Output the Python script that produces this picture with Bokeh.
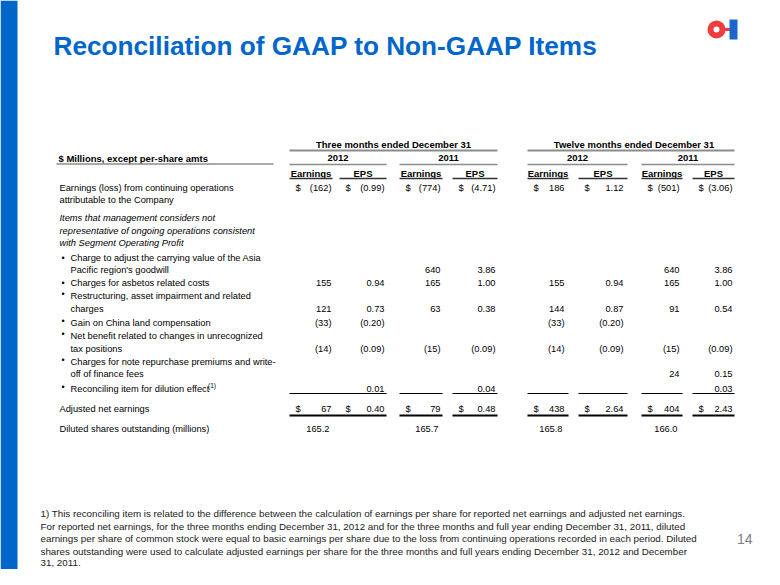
from bokeh.plotting import figure
from bokeh.models import ColumnDataSource, Range1d
from bokeh.core.properties import value
from bokeh.embed import file_html
from bokeh.resources import INLINE

# ---------------- data ----------------
title = "Reconciliation of GAAP to Non-GAAP Items"
period_headers = ["Three months ended December 31", "Twelve months ended December 31"]
year_headers = ["2012", "2011", "2012", "2011"]
col_headers = ["Earnings", "EPS", "Earnings", "EPS", "Earnings", "EPS", "Earnings", "EPS"]
units_label = "$ Millions, except per-share amts"

row_labels = [
    ["Earnings (loss) from continuing operations", "attributable to the Company"],
    ["Charge to adjust the carrying value of the Asia", "Pacific region's goodwill"],
    ["Charges for asbetos related costs"],
    ["Restructuring, asset impairment and related", "charges"],
    ["Gain on China land compensation"],
    ["Net benefit related to changes in unrecognized", "tax positions"],
    ["Charges for note repurchase premiums and write-", "off of finance fees"],
    ["Reconciling item for dilution effect"],
    ["Adjusted net earnings"],
]
section_note = ["Items that management considers not",
                "representative of ongoing operations consistent",
                "with Segment Operating Profit"]
shares_label = "Diluted shares outstanding (millions)"

q4_2012_earn = [-162, None, 155, 121, -33, -14, None, None, 67]
q4_2012_eps = [-0.99, None, 0.94, 0.73, -0.20, -0.09, None, 0.01, 0.40]
q4_2011_earn = [-774, 640, 165, 63, None, -15, None, None, 79]
q4_2011_eps = [-4.71, 3.86, 1.00, 0.38, None, -0.09, None, 0.04, 0.48]
fy_2012_earn = [186, None, 155, 144, -33, -14, None, None, 438]
fy_2012_eps = [1.12, None, 0.94, 0.87, -0.20, -0.09, None, None, 2.64]
fy_2011_earn = [-501, 640, 165, 91, None, -15, 24, None, 404]
fy_2011_eps = [-3.06, 3.86, 1.00, 0.54, None, -0.09, 0.15, 0.03, 2.43]
diluted_shares = [165.2, 165.7, 165.8, 166.0]
dollar_rows = [0, 8]

footnote = [
    "1) This reconciling item is related to the difference between the calculation of earnings per share for reported net earnings and adjusted net earnings.",
    "For reported net earnings, for the three months ending December 31, 2012 and for the three months and full year ending December 31, 2011, diluted",
    "earnings per share of common stock were equal to basic earnings per share due to the loss from continuing operations recorded in each period. Diluted",
    "shares outstanding were used to calculate adjusted earnings per share for the three months and full years ending December 31, 2012 and December",
    "31, 2011.",
]
page_number = "14"

# ---------------- layout ----------------
FONT = "Liberation Sans"
BLUE = "#0066CC"
W, H = 764, 569
p = figure(width=W, height=H, x_range=Range1d(0, W), y_range=Range1d(H, 0),
           output_backend="svg", toolbar_location=None, x_axis_location=None,
           y_axis_location=None, min_border=0, outline_line_color=None,
           background_fill_color="white", border_fill_color="white")
p.grid.visible = False


def txt(xs, ys, texts, size, color="#000000", align="left", style="normal",
        font=FONT, baseline="middle"):
    src = ColumnDataSource(dict(x=list(xs), y=list(ys), t=list(texts)))
    p.text(x="x", y="y", text="t", source=src, text_font=value(font),
           text_font_size=size, text_color=color, text_align=align,
           text_baseline=baseline, text_font_style=style)


def seg(x0, x1, y, color, width):
    src = ColumnDataSource(dict(x0=list(x0), x1=list(x1), y=list(y)))
    p.segment(x0="x0", y0="y", x1="x1", y1="y", source=src,
              line_color=color, line_width=width)


# left bar
p.quad(left=[0], right=[17], top=[0], bottom=[H], fill_color=BLUE, line_color=None)

# logo
p.circle(x=[716], y=[29], radius=9, fill_color="#EE3B3B", line_color=None)
p.circle(x=[716], y=[29], radius=3, fill_color="white", line_color=None)
p.quad(left=[723], right=[730], top=[27.5], bottom=[30.5], fill_color="#EE3B3B", line_color=None)
p.quad(left=[729], right=[737], top=[19], bottom=[39], fill_color="#1A66CC", line_color=None)

# title
txt([53], [45], [title], "26.2px", color=BLUE, style="bold")

# columns
COL_L = [289, 339, 399, 452, 527, 578, 641, 692]
COL_R = [332, 386, 442, 497, 568, 627, 682, 734]
VAL_R = [331, 384, 440, 495, 564, 623, 679, 732]
TSZ = "9.3px"
BSZ = "9.5px"

# headers
txt([393, 633.5], [144, 144], period_headers, BSZ, style="bold", align="center")
seg([289, 527], [497, 734], [150, 150], "#8C8C8C", 2)
txt([58], [158], [units_label], BSZ, style="bold")
seg([56], [273], [163.5], "#8C8C8C", 1.5)
yl = [COL_L[0], COL_L[2], COL_L[4], COL_L[6]]
yr = [COL_R[1], COL_R[3], COL_R[5], COL_R[7]]
txt([(a + b) / 2 for a, b in zip(yl, yr)], [157.5] * 4, year_headers, BSZ, style="bold", align="center")
seg(yl, yr, [164] * 4, "#8C8C8C", 1.5)
txt([(a + b) / 2 for a, b in zip(COL_L, COL_R)], [172.5] * 8, col_headers, BSZ, style="bold", align="center")
seg(COL_L, COL_R, [178] * 8, "#333333", 1.5)

# row labels
LINE_Y = [[187, 199], [257, 269], [282], [295, 308], [322], [335, 348], [361, 373], [388], [408]]
VAL_Y = [187, 269, 282, 308, 322, 348, 373, 388, 408]
lx, ly, lt = [], [], []
for i, (lines, ys) in enumerate(zip(row_labels, LINE_Y)):
    x = 59 if i in (0, 8) else 70
    for t, y in zip(lines, ys):
        lx.append(x); ly.append(y); lt.append(t)
lx.append(59); ly.append(428); lt.append(shares_label)
txt(lx, ly, lt, TSZ)
txt([59, 59, 59], [217, 230, 242], section_note, TSZ, style="italic")
# bullets
bx, by = [], []
for i in range(1, 8):
    bx.append(61)
    by.append(LINE_Y[i][0] + (0.5 if i < 3 else -1.5))
txt(bx, by, ["\u2022"] * len(bx), "9px", align="left")
# superscript
txt([207.5], [384.5], ["(1)"], "6.5px")


def fmt(v, dec):
    if v is None:
        return ""
    s = f"{abs(v):,.{dec}f}"
    return f"({s})" if v < 0 else s


series = [(q4_2012_earn, 0), (q4_2012_eps, 2), (q4_2011_earn, 0), (q4_2011_eps, 2),
          (fy_2012_earn, 0), (fy_2012_eps, 2), (fy_2011_earn, 0), (fy_2011_eps, 2)]
vx, vy, vt, dx, dy = [], [], [], [], []
for c, (vals, dec) in enumerate(series):
    for r, v in enumerate(vals):
        if v is None:
            continue
        vx.append(VAL_R[c]); vy.append(VAL_Y[r]); vt.append(fmt(v, dec))
        if r in dollar_rows:
            dx.append(COL_L[c] + 6); dy.append(VAL_Y[r])
txt(vx, vy, vt, TSZ, align="right")
txt(dx, dy, ["$"] * len(dx), TSZ)
txt([VAL_R[c] - 2 for c in (0, 2, 4, 6)], [428] * 4, [f"{v:.1f}" for v in diluted_shares], TSZ, align="right")

# subtotal lines
SUB_L = [COL_L[0]] + COL_L[2:]
SUB_R = [COL_R[1]] + COL_R[2:]
seg(SUB_L, SUB_R, [393] * len(SUB_L), "#000000", 1)
seg(SUB_L, SUB_R, [415] * len(SUB_L), "#000000", 2)

# footnote (lifted slightly so the last line stays inside the figure)
txt([40] * len(footnote), [513, 525.5, 538, 550.5, 562], footnote, "9.8px", color="#1A1A1A")
txt([752], [538], [page_number], "14px", color="#808080", align="right")

open("out.html", "w").write(file_html(p, INLINE))
